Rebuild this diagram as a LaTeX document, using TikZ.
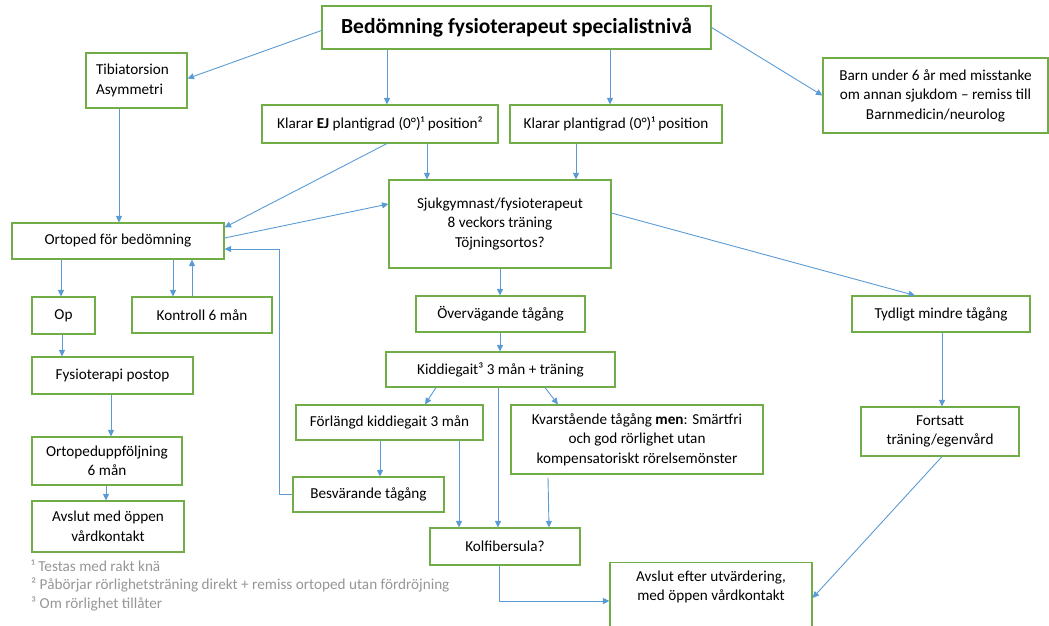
\documentclass[tikz,border=0pt]{standalone}
\usepackage{fontspec}
\setmainfont{Carlito}
\usetikzlibrary{arrows.meta}
\definecolor{boxgreen}{RGB}{112,173,71}
\definecolor{arrblue}{RGB}{91,155,213}
\definecolor{notegray}{RGB}{150,150,150}
\begin{document}
\begin{tikzpicture}[x=1pt,y=-1pt,
 fbox/.style={draw=boxgreen,line width=1.1pt,inner sep=0pt,align=center,font=\fontsize{15.2}{19.5}\selectfont,text=black},
 arr/.style={draw=arrblue,line width=0.9pt,-{Triangle[length=6.5pt,width=6pt]}},
 note/.style={anchor=west,text=notegray,font=\fontsize{15.2}{17}\selectfont,inner sep=0pt}]
\useasboundingbox (0,0) rectangle (1049,626);
\clip (0,0) rectangle (1049,626);
% boxes
\node[fbox,minimum width=389pt,minimum height=43pt,font=\bfseries\fontsize{21.5}{24}\selectfont] (title) at (516.5,27.5) {Bedömning fysioterapeut specialistnivå};
\node[fbox,minimum width=101pt,minimum height=55pt,align=left,text width=81pt] (tib) at (136.5,80.5) {Tibiatorsion\\Asymmetri};
\node[fbox,minimum width=236pt,minimum height=38pt] (ej) at (380,124) {Klarar \textbf{EJ} plantigrad (0°)¹ position²};
\node[fbox,minimum width=212pt,minimum height=38pt] (pl) at (616,124) {Klarar plantigrad (0°)¹ position};
\node[fbox,minimum width=225pt,minimum height=75pt] (barn) at (935.5,95.5) {Barn under 6 år med misstanke\\om annan sjukdom – remiss till\\Barnmedicin/neurolog};
\node[fbox,minimum width=222pt,minimum height=88pt] (sjuk) at (500,224) {Sjukgymnast/fysioterapeut\\8 veckors träning\\Töjningsortos?};
\node[fbox,minimum width=212pt,minimum height=36pt] (ort) at (118,241) {Ortoped för bedömning};
\node[fbox,minimum width=63pt,minimum height=37pt] (op) at (63.5,315.5) {Op};
\node[fbox,minimum width=140pt,minimum height=36pt] (kon) at (202,315) {Kontroll 6 mån};
\node[fbox,minimum width=169pt,minimum height=36pt] (overv) at (500.5,314) {Övervägande tågång};
\node[fbox,minimum width=178pt,minimum height=36pt] (tyd) at (941,314) {Tydligt mindre tågång};
\node[fbox,minimum width=229pt,minimum height=35pt] (kid) at (500.5,369.5) {Kiddiegait³ 3 mån + träning};
\node[fbox,minimum width=161pt,minimum height=37pt] (fys) at (112.5,375.5) {Fysioterapi postop};
\node[fbox,minimum width=187pt,minimum height=35pt] (forl) at (389.5,422.5) {Förlängd kiddiegait 3 mån};
\node[fbox,minimum width=252pt,minimum height=69pt] (kvar) at (637,439.5) {Kvarstående tågång \textbf{men}: Smärtfri\\och god rörlighet utan\\kompensatoriskt rörelsemönster};
\node[fbox,minimum width=158pt,minimum height=49pt] (fort) at (940,431.5) {Fortsatt\\träning/egenvård};
\node[fbox,minimum width=150pt,minimum height=48pt] (ortu) at (107,461) {Ortopeduppföljning\\6 mån};
\node[fbox,minimum width=151pt,minimum height=35pt] (besv) at (368.5,494.5) {Besvärande tågång};
\node[fbox,minimum width=152pt,minimum height=51pt] (avsl1) at (108,526.5) {Avslut med öppen\\vårdkontakt};
\node[fbox,minimum width=150pt,minimum height=37pt] (kolf) at (505,546.5) {Kolfibersula?};
\node[fbox,anchor=north,minimum width=202pt,inner ysep=8pt] (avsl2) at (711,562) {Avslut efter utvärdering,\\med öppen vårdkontakt\rule[-30pt]{0pt}{0pt}};
% footnotes
\node[note] (n1) at (31,566) {¹ Testas med rakt knä};
\node[note] (n2) at (31,585) {² Påbörjar rörlighetsträning direkt + remiss ortoped utan fördröjning};
\node[note] (n3) at (31,604) {³ Om rörlighet tillåter};
% connectors
\draw[arr] ([yshift=-3pt]title.west) -- ([yshift=2pt]tib.east);
\draw[arr] (387,0 |- title.south) -- (387,0 |- ej.north);
\draw[arr] (610,0 |- title.south) -- (610,0 |- pl.north);
\draw[arr] (title.east) -- (barn.west);
\draw[arr] (119,0 |- tib.south) -- (119,0 |- ort.north);
\draw[arr] (387,0 |- ej.south) -- ([yshift=-5pt]ort.north east);
\draw[arr] ([yshift=3pt]ort.east) -- ([yshift=20pt]sjuk.west);
\draw[arr] (427,0 |- ej.south) -- (427,0 |- sjuk.north);
\draw[arr] (576,0 |- pl.south) -- (576,0 |- sjuk.north);
\draw[arr] (61,0 |- ort.south) -- (61,0 |- op.north);
\draw[arr] (173,0 |- ort.south) -- (173,0 |- kon.north);
\draw[arr] (192,0 |- kon.north) -- (192,0 |- ort.south);
\draw[arr] (62,0 |- op.south) -- (62,0 |- fys.north);
\draw[arr] (111,0 |- fys.south) -- (111,0 |- ortu.north);
\draw[arr] (106,0 |- ortu.south) -- (106,0 |- avsl1.north);
\draw[arr] (besv.west) -| (279,249) -- (ort.east |- 0,249);
\draw[arr] (500,0 |- sjuk.south) -- (500,0 |- overv.north);
\draw[arr] ([yshift=11pt]sjuk.east) -- (915,0 |- tyd.north);
\draw[arr] (500,0 |- overv.south) -- (500,0 |- kid.north);
\draw[arr] (436,0 |- kid.south) -- (425,0 |- forl.north);
\draw[arr] (545,0 |- kid.south) -- (558,0 |- kvar.north);
\draw[arr] (498,0 |- kid.south) -- (498,0 |- kolf.north);
\draw[arr] (380,0 |- forl.south) -- (380,0 |- besv.north);
\draw[arr] (459,0 |- forl.south) -- (459,0 |- kolf.north);
\draw[arr] ([yshift=-3pt]548,0 |- kvar.south) -- (549,0 |- kolf.north);
\draw[arr] (499,0 |- kolf.south) |- (avsl2.west |- 0,601);
\draw[arr] (942,0 |- tyd.south) -- (942,0 |- fort.north);
\draw[arr] (942,0 |- fort.south) -- (avsl2.east |- 0,598);
\end{tikzpicture}
\end{document}
